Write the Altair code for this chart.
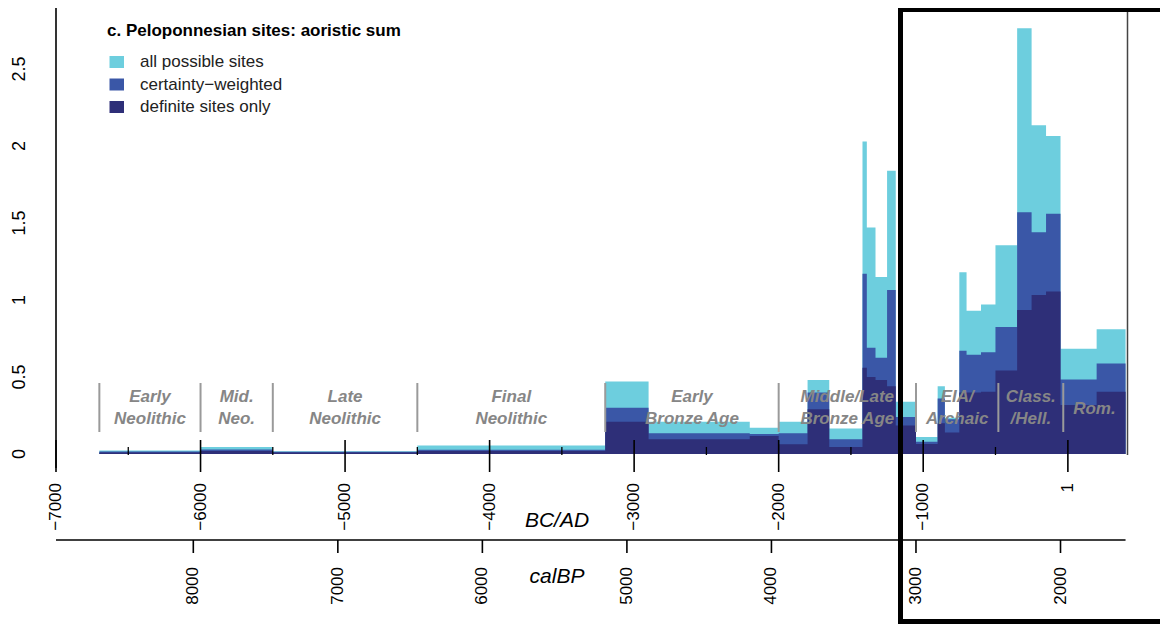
import altair as alt
import pandas as pd

# ---------------- data ----------------
bin_start = [-6700, -6000, -5500, -4500, -3200, -2900, -2200, -2000, -1800, -1650,
             -1420, -1390, -1330, -1250, -1190, -1050, -900, -850, -750, -700,
             -600, -500, -350, -250, -150, -50, 200]
bin_last_end = 400

all_possible = [0.022, 0.045, 0.018, 0.055, 0.47, 0.21, 0.17, 0.21, 0.48, 0.165,
                2.03, 1.47, 1.15, 1.84, 0.34, 0.11, 0.44, 0.235, 1.18, 0.93,
                0.97, 1.355, 2.765, 2.135, 2.065, 0.683, 0.81]
certainty_weighted = [0.016, 0.03, 0.014, 0.028, 0.30, 0.135, 0.13, 0.134, 0.40, 0.095,
                      1.17, 0.69, 0.625, 1.065, 0.24, 0.08, 0.36, 0.225, 0.67, 0.645,
                      0.66, 0.825, 1.57, 1.44, 1.56, 0.483, 0.587]
definite_only = [0.01, 0.02, 0.01, 0.02, 0.21, 0.095, 0.117, 0.063, 0.29, 0.045,
                 0.56, 0.50, 0.48, 0.44, 0.185, 0.065, 0.20, 0.14, 0.40, 0.40,
                 0.405, 0.542, 0.935, 1.032, 1.055, 0.318, 0.405]

series_names = ["all possible sites", "certainty\u2212weighted", "definite sites only"]
series_values = [all_possible, certainty_weighted, definite_only]
series_colors = ["#6DCEDE", "#3A57A7", "#2E2F78"]
legend_title = "c. Peloponnesian sites: aoristic sum"

period_labels = ["Early\nNeolithic", "Mid.\nNeo.", "Late\nNeolithic", "Final\nNeolithic",
                 "Early\nBronze Age", "Middle/Late\nBronze Age", "EIA/\nArchaic",
                 "Class.\n/Hell.", "Rom."]
period_bounds = [-6700, -6000, -5500, -4500, -3200, -2000, -1050, -480, -31, 400]

bcad_major = [-7000, -6000, -5000, -4000, -3000, -2000, -1000, 1]
bcad_labels = ["\u22127000", "\u22126000", "\u22125000", "\u22124000", "\u22123000",
               "\u22122000", "\u22121000", "1"]
bcad_minor = [-6500, -5500, -4500, -3500, -2500, -1500, -500]
calbp_ticks = [8000, 7000, 6000, 5000, 4000, 3000, 2000]
calbp_labels = ["8000", "7000", "6000", "5000", "4000", "3000", "2000"]
y_ticks = [0, 0.5, 1, 1.5, 2, 2.5]
y_labels = ["0", "0.5", "1", "1.5", "2", "2.5"]

# ---------------- layout ----------------
W, H = 1084, 456
FONT = "Liberation Sans"
xs = alt.Scale(domain=[-7000, 500], nice=False, zero=False)
ys = alt.Scale(domain=[-14 / 154, 442 / 154], nice=False, zero=False)

layers = []

# stepped areas (drawn over each other, not stacked)
for i, (vals, col) in enumerate(zip(series_values, series_colors)):
    df = pd.DataFrame({"year": bin_start + [bin_last_end], "v": vals + [vals[-1]]})
    yaxis = alt.Axis(values=y_ticks, labels=False, domain=False, ticks=True, tickSize=13,
                     tickColor="black", tickWidth=1.5, grid=False, title=None) if i == 0 else None
    layers.append(
        alt.Chart(df).mark_area(interpolate="step-after", color=col, opacity=1).encode(
            x=alt.X("year:Q", scale=xs, axis=None),
            y=alt.Y("v:Q", scale=ys, axis=yaxis),
            y2=alt.datum(0),
        )
    )

# period dividers
div_df = pd.DataFrame({"year": period_bounds[:-1]})
layers.append(alt.Chart(div_df).mark_rule(color="#9a9a9a", strokeWidth=2).encode(
    x=alt.X("year:Q", scale=xs), y=alt.value(371), y2=alt.value(420)))

# period labels
two = [(0.5 * (period_bounds[k] + period_bounds[k + 1]), period_labels[k].split("\n"))
       for k in range(len(period_labels))]
l1 = pd.DataFrame({"c": [c for c, p in two if len(p) == 2], "t": [p[0] for c, p in two if len(p) == 2]})
l2 = pd.DataFrame({"c": [c for c, p in two if len(p) == 2], "t": [p[1] for c, p in two if len(p) == 2]})
l0 = pd.DataFrame({"c": [c for c, p in two if len(p) == 1], "t": [p[0] for c, p in two if len(p) == 1]})
for d, yy in [(l1, 385), (l2, 407), (l0, 397)]:
    layers.append(alt.Chart(d).mark_text(font=FONT, fontSize=17, fontWeight="bold", fontStyle="italic",
                                         color="#868686", align="center", baseline="middle").encode(
        x=alt.X("c:Q", scale=xs), y=alt.value(yy), text="t:N"))

# BC/AD ticks + labels
maj = pd.DataFrame({"year": bcad_major, "lab": bcad_labels})
layers.append(alt.Chart(maj).mark_rule(color="black", strokeWidth=1.6).encode(
    x=alt.X("year:Q", scale=xs), y=alt.value(428), y2=alt.value(460)))
layers.append(alt.Chart(pd.DataFrame({"year": bcad_minor})).mark_rule(color="black", strokeWidth=1.3).encode(
    x=alt.X("year:Q", scale=xs), y=alt.value(435), y2=alt.value(443)))
layers.append(alt.Chart(maj).mark_text(font=FONT, fontSize=17, angle=270, align="right",
                                       baseline="middle", color="black").encode(
    x=alt.X("year:Q", scale=xs), y=alt.value(471), text="lab:N"))

# calBP axis
cal = pd.DataFrame({"year": [1950 - v for v in calbp_ticks], "lab": calbp_labels})
layers.append(alt.Chart(pd.DataFrame({"a": [0]})).mark_rule(color="black", strokeWidth=1.6).encode(
    x=alt.datum(-7000), x2=alt.datum(bin_last_end), y=alt.value(528)))
layers.append(alt.Chart(cal).mark_rule(color="black", strokeWidth=1.6).encode(
    x=alt.X("year:Q", scale=xs), y=alt.value(528), y2=alt.value(541)))
layers.append(alt.Chart(cal).mark_text(font=FONT, fontSize=17, angle=270, align="right",
                                       baseline="middle", color="black").encode(
    x=alt.X("year:Q", scale=xs), y=alt.value(555), text="lab:N"))

# axis titles
for txt, yy in [("BC/AD", 509), ("calBP", 565)]:
    layers.append(alt.Chart(pd.DataFrame({"t": [txt]})).mark_text(
        font=FONT, fontSize=21, fontStyle="italic", color="black", align="center", baseline="middle").encode(
        x=alt.value(501), y=alt.value(yy), text="t:N"))

# y axis line and labels
layers.append(alt.Chart(pd.DataFrame({"a": [0]})).mark_rule(color="black", strokeWidth=1.6).encode(
    x=alt.value(0), y=alt.value(-4), y2=alt.value(456)))
layers.append(alt.Chart(pd.DataFrame({"v": y_ticks, "lab": y_labels})).mark_text(
    font=FONT, fontSize=18, angle=270, align="center", baseline="middle", color="black").encode(
    x=alt.value(-36), y=alt.Y("v:Q", scale=ys), text="lab:N"))

# legend
layers.append(alt.Chart(pd.DataFrame({"t": [legend_title]})).mark_text(
    font=FONT, fontSize=17, fontWeight="bold", color="black", align="left", baseline="middle").encode(
    x=alt.value(51), y=alt.value(19), text="t:N"))
for i, (name, col) in enumerate(zip(series_names, series_colors)):
    cy = 50 + 22.5 * i
    d = pd.DataFrame({"t": [name]})
    layers.append(alt.Chart(d).mark_rect(color=col).encode(
        x=alt.value(53.5), x2=alt.value(68), y=alt.value(cy - 6), y2=alt.value(cy + 6)))
    layers.append(alt.Chart(d).mark_text(font=FONT, fontSize=17, color="#222222", align="left",
                                         baseline="middle").encode(
        x=alt.value(84), y=alt.value(cy), text="t:N"))

# highlight frame
frame = pd.DataFrame({"a": [0]})
layers.append(alt.Chart(frame).mark_rule(color="#444444", strokeWidth=1.5).encode(
    x=alt.value(1071.5), y=alt.value(-2), y2=alt.value(443)))
layers.append(alt.Chart(frame).mark_rule(color="black", strokeWidth=5).encode(
    x=alt.value(844.5), y=alt.value(-8), y2=alt.value(612)))
layers.append(alt.Chart(frame).mark_rule(color="black", strokeWidth=4).encode(
    x=alt.value(842), x2=alt.value(1125), y=alt.value(-2)))
layers.append(alt.Chart(frame).mark_rule(color="black", strokeWidth=5).encode(
    x=alt.value(842), x2=alt.value(1125), y=alt.value(609.5)))

chart = alt.layer(*layers).properties(
    width=W, height=H,
    autosize=alt.AutoSizeParams(type="none"),
    padding={"left": 48, "top": 4, "right": 20, "bottom": 156},
    background="white",
).configure_view(stroke=None)

chart.save("out.html", embed_options={"renderer": "svg", "actions": False})
